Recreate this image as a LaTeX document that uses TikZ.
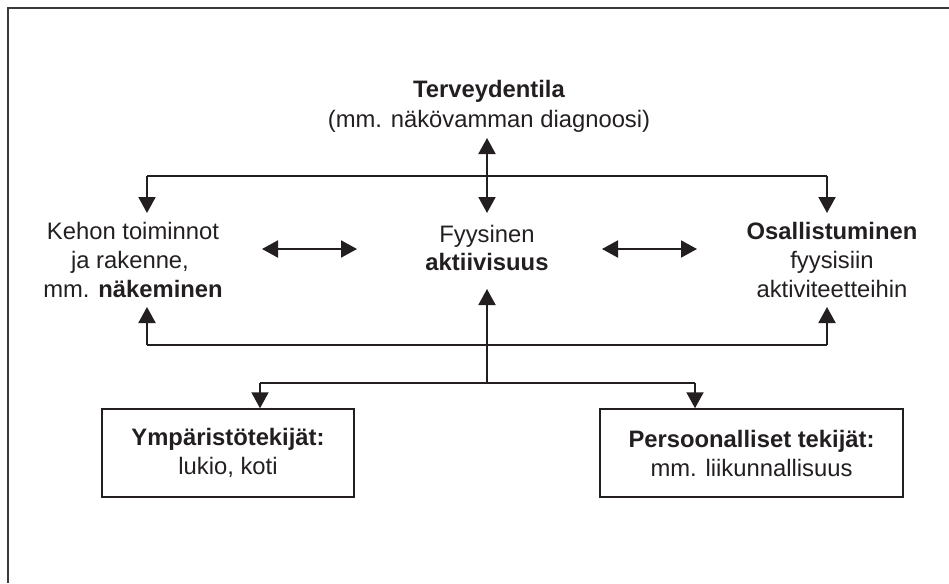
\documentclass[tikz,border=0pt]{standalone}
\usepackage{fontspec}
\setmainfont{Liberation Sans}
\usetikzlibrary{arrows.meta}
\definecolor{ink}{HTML}{231F20}
\definecolor{framegray}{HTML}{3A3A3A}
\begin{document}
\begin{tikzpicture}[x=1pt,y=-1pt,
  txt/.style={font=\fontsize{23.8}{29}\selectfont, text=ink, inner sep=0pt, anchor=base},
  thinline/.style={draw=ink, line width=1.3pt},
  thickline/.style={draw=ink, line width=2pt},
  headto/.style={-{Triangle[width=17pt,length=16pt]}, thickline},
  headboth/.style={{Triangle[width=17pt,length=16pt]}-{Triangle[width=17pt,length=16pt]}, thickline},
  factor/.style={draw=ink, line width=1.5pt, fill=white, inner sep=0pt, align=center,
    font=\fontsize{23.8}{29}\selectfont, text=ink}]

% canvas and open frame (top and left edges)
\useasboundingbox (0,0) rectangle (949,583);
\draw[framegray, line width=2pt] (8,583) -- (8,8) -- (949,8);

% health condition
\node[txt] (tila)  at (489,98)  {\textbf{Terveydentila}};
\node[txt] (tila2) at (489,127) {(mm. näkövamman diagnoosi)};

% body functions
\node[txt] (keho1) at (133,239) {Kehon toiminnot};
\node[txt] (keho2) at (130,268) {ja rakenne,};
\node[txt] (keho3) at (133,297) {mm. \textbf{näkeminen}};

% activity
\node[txt] (akt1) at (487,242) {Fyysinen};
\node[txt] (akt2) at (487,270) {\textbf{aktiivisuus}};

% participation
\node[txt] (osa1) at (832,239) {\textbf{Osallistuminen}};
\node[txt] (osa2) at (832,268) {fyysisiin};
\node[txt] (osa3) at (832,297) {aktiviteetteihin};

% contextual factors
\node[factor, minimum width=252pt, minimum height=88pt] (ymp) at (228,453)
  {\textbf{Ympäristötekijät:}\\lukio, koti};
\node[factor, minimum width=303pt, minimum height=88pt] (pers) at (751.5,453)
  {\textbf{Persoonalliset tekijät:}\\mm. liikunnallisuus};

% junction and tip coordinates
\coordinate (tilaTip) at (487,138);
\coordinate (aktTop)  at (487,213);
\coordinate (aktBot)  at (487,289);
\coordinate (kehoTop) at (147,213);
\coordinate (kehoBot) at (147,307);
\coordinate (osaTop)  at (827,213);
\coordinate (osaBot)  at (827,307);
\coordinate (upL)  at (147,176);
\coordinate (upR)  at (827,176);
\coordinate (loL)  at (147,345);
\coordinate (loR)  at (827,345);
\coordinate (hub)  at (487,383);
\coordinate (brL)  at (260,383);
\coordinate (brR)  at (695,383);

% upper distribution line
\draw[thinline] (upL) -- (upR);
\draw[headto] (upL) -- (kehoTop);
\draw[headto] (upR) -- (osaTop);
\draw[headboth] (tilaTip) -- (aktTop);

% lower distribution line
\draw[thinline] (loL) -- (loR);
\draw[headto] (loL) -- (kehoBot);
\draw[headto] (loR) -- (osaBot);
\draw[headto] (hub) -- (aktBot);

% branch to contextual factors
\draw[thinline] (brL) -- (brR);
\draw[headto] (brL) -- (ymp.north -| brL);
\draw[headto] (brR) -- (pers.north -| brR);

% horizontal interactions
\coordinate (h1a) at (262,249);
\coordinate (h1b) at (357,249);
\coordinate (h2a) at (602,249);
\coordinate (h2b) at (697,249);
\draw[headboth] (h1a) -- (h1b);
\draw[headboth] (h2a) -- (h2b);
\end{tikzpicture}
\end{document}
